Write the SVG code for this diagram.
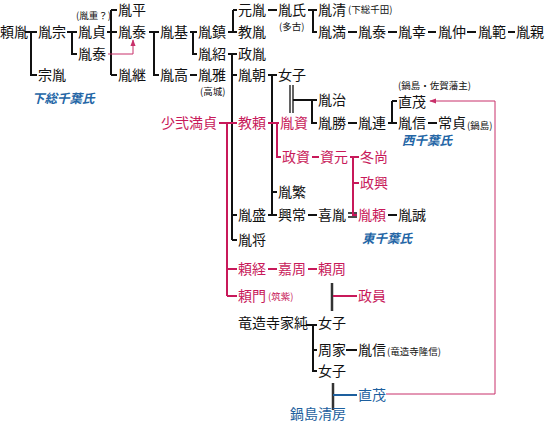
<svg xmlns="http://www.w3.org/2000/svg" width="545" height="425" viewBox="0 0 545 425">
<defs>
<style>
text{font-family:"Noto Sans CJK JP","Noto Sans CJK SC",sans-serif;font-size:14px;fill:#111}
.r{fill:#c8195a}
.b{fill:#1d5f9e}
.s{font-size:9.5px}
.c{font-size:12.5px;font-style:italic;font-weight:700;fill:#2466a6}
.l{stroke:#111;stroke-width:2;fill:none}
.d{stroke:#111;stroke-width:1.3;fill:none}
.lr{stroke:#c8195a;stroke-width:2;fill:none}
.lb{stroke:#1d5f9e;stroke-width:2;fill:none}
.g{stroke:#333;stroke-width:2.5;fill:none}
.a{stroke:#c8306a;stroke-width:1;fill:none}
</style>
<marker id="ah" viewBox="0 0 8 8" refX="7" refY="4" markerWidth="7" markerHeight="7" orient="auto" markerUnits="userSpaceOnUse">
<path d="M0,1 L8,4 L0,7 z" fill="#c8306a"/>
</marker>
</defs>
<rect width="545" height="425" fill="#fff"/>
<g id="connectors">
<path class="l" d="M25 32H37M31 32V75H37"/>
<path class="l" d="M67 32H77M72 32V54H77"/>
<path class="l" d="M107 32H117M111 10V75M111 10H117M111 75H117"/>
<path class="l" d="M149 32H159M154 32V75H159"/>
<path class="l" d="M190 32H197M193 32V54H197"/>
<path class="l" d="M190 75H197"/>
<path class="l" d="M228 32H237M233 10V32M233 10H237"/>
<path class="l" d="M228 54H237M232 54V240M232 75H237M232 215H237M232 240H237"/>
<path class="l" d="M268 10H277"/>
<path class="l" d="M308 10H317M313 10V32H317"/>
<path class="l" d="M348 32H357M388 32H397M428 32H436M467 32H476M508 32H515"/>
<path class="l" d="M268 75H277M272 75V215M272 192H277M268 215H277"/>
<path class="d" d="M290 85V113M293 85V113"/>
<path class="l" d="M293 100H317M312 100V123H317"/>
<path class="l" d="M348 123H357"/>
<path class="l" d="M388 123H397M392 101V123M392 101H397"/>
<path class="l" d="M428 123H437"/>
<path class="l" d="M308 215H317"/>
<path class="d" d="M348 213H357M348 217H357"/>
<path class="l" d="M388 215H397"/>
<path class="l" d="M306 325H317M313 325V371H317M313 350H317"/>
<path class="l" d="M346 350H357"/>
<path class="g" d="M332 283V311"/>
<path class="g" d="M333 383V410"/>
<path class="lr" d="M219 123H237M227 123V296M227 269H237M227 296H237"/>
<path class="lr" d="M268 123H279M277 123V157H281"/>
<path class="lr" d="M312 157H319"/>
<path class="lr" d="M350 157H359M353 157V215H357M353 183H359"/>
<path class="lr" d="M268 269H277M308 269H317"/>
<path class="lr" d="M333 296H357"/>
<path class="lb" d="M333 395H357"/>
<path class="a" d="M108 54H133V40" marker-end="url(#ah)"/>
<path class="a" d="M386 394H495V101H430" marker-end="url(#ah)"/>
</g>
<g id="n_yoritane"><text x="0" y="37">頼胤</text></g>
<g id="n_tanemune"><text x="38" y="37">胤宗</text></g>
<g id="n_munetane"><text x="38" y="80">宗胤</text></g>
<g id="n_tanesada"><text x="78" y="37">胤貞</text><text class="s" x="76" y="19">(胤重？)</text></g>
<g id="n_taneyasu1"><text x="78" y="59">胤泰</text></g>
<g id="n_tanehira"><text x="118" y="15">胤平</text></g>
<g id="n_taneyasu2"><text x="118" y="37">胤泰</text></g>
<g id="n_tanetsugu"><text x="118" y="80">胤継</text></g>
<g id="l_shimousa"><text class="c" x="32" y="103">下総千葉氏</text></g>
<g id="n_tanemoto"><text x="160" y="37">胤基</text></g>
<g id="n_tanetaka"><text x="160" y="80">胤高</text></g>
<g id="n_tanetsune"><text x="198" y="37">胤鎮</text></g>
<g id="n_tanetsugu2"><text x="198" y="59">胤紹</text></g>
<g id="n_tanemasa"><text x="198" y="80">胤雅</text><text class="s" x="200" y="95">(高城)</text></g>
<g id="n_mototane"><text x="238" y="15">元胤</text></g>
<g id="n_noritane"><text x="238" y="37">教胤</text></g>
<g id="n_masatane"><text x="238" y="59">政胤</text></g>
<g id="n_tanetomo"><text x="238" y="80">胤朝</text></g>
<g id="n_taneuji"><text x="278" y="15">胤氏</text><text class="s" x="279" y="30">(多古)</text></g>
<g id="n_tanekiyo"><text x="318" y="15">胤清</text><text class="s" x="348" y="13">(下総千田)</text></g>
<g id="n_tanemitsu"><text x="318" y="37">胤満</text></g>
<g id="n_taneyasu3"><text x="358" y="37">胤泰</text></g>
<g id="n_taneyuki"><text x="398" y="37">胤幸</text></g>
<g id="n_tanenaka"><text x="438" y="37">胤仲</text></g>
<g id="n_tanenori"><text x="478" y="37">胤範</text></g>
<g id="n_tanechika"><text x="516" y="37">胤親</text></g>
<g id="n_joshi1"><text x="278" y="80">女子</text></g>
<g id="n_taneharu"><text x="318" y="105">胤治</text></g>
<g id="n_tanekatsu"><text x="318" y="128">胤勝</text></g>
<g id="n_tanetsura"><text x="358" y="128">胤連</text></g>
<g id="n_naoshige1"><text x="398" y="107">直茂</text><text class="s" x="398" y="89">(鍋島・佐賀藩主)</text></g>
<g id="n_tanenobu1"><text x="398" y="128">胤信</text></g>
<g id="n_tsunesada"><text x="438" y="128">常貞</text><text class="s" x="467" y="129">(鍋島)</text></g>
<g id="l_nishi"><text class="c" x="402" y="145">西千葉氏</text></g>
<g id="n_mitsusada"><text class="r" x="161" y="128">少弐満貞</text></g>
<g id="n_noriyori"><text class="r" x="238" y="128">教頼</text></g>
<g id="n_tanesuke"><text class="r" x="280" y="128">胤資</text></g>
<g id="n_masasuke"><text class="r" x="282" y="162">政資</text></g>
<g id="n_sukemoto"><text class="r" x="320" y="162">資元</text></g>
<g id="n_fuyuhisa"><text class="r" x="360" y="162">冬尚</text></g>
<g id="n_masaoki"><text class="r" x="360" y="188">政興</text></g>
<g id="n_tanoshige"><text x="278" y="197">胤繁</text></g>
<g id="n_tanemori"><text x="238" y="220">胤盛</text></g>
<g id="n_okitsune"><text x="278" y="220">興常</text></g>
<g id="n_yoshitane"><text x="318" y="220">喜胤</text></g>
<g id="n_taneyori"><text class="r" x="358" y="220">胤頼</text></g>
<g id="n_tanenobu2"><text x="398" y="220">胤誠</text></g>
<g id="l_higashi"><text class="c" x="362" y="243">東千葉氏</text></g>
<g id="n_tanemasa2"><text x="238" y="245">胤将</text></g>
<g id="n_yoritsune"><text class="r" x="238" y="274">頼経</text></g>
<g id="n_yoshikane"><text class="r" x="278" y="274">嘉周</text></g>
<g id="n_yorikane"><text class="r" x="318" y="274">頼周</text></g>
<g id="n_yorikado"><text class="r" x="238" y="301">頼門</text><text class="r s" x="268" y="300">(筑紫)</text></g>
<g id="n_masakazu"><text class="r" x="358" y="301">政員</text></g>
<g id="n_iezumi"><text x="238" y="328">竜造寺家純</text></g>
<g id="n_joshi2"><text x="318" y="328">女子</text></g>
<g id="n_chikaie"><text x="318" y="355">周家</text></g>
<g id="n_tanenobu3"><text x="358" y="355">胤信</text><text class="s" x="387" y="355">(竜造寺隆信)</text></g>
<g id="n_joshi3"><text x="318" y="376">女子</text></g>
<g id="n_naoshige2"><text class="b" x="358" y="400">直茂</text></g>
<g id="n_kiyofusa"><text class="b" x="290" y="419">鍋島清房</text></g>
</svg>
